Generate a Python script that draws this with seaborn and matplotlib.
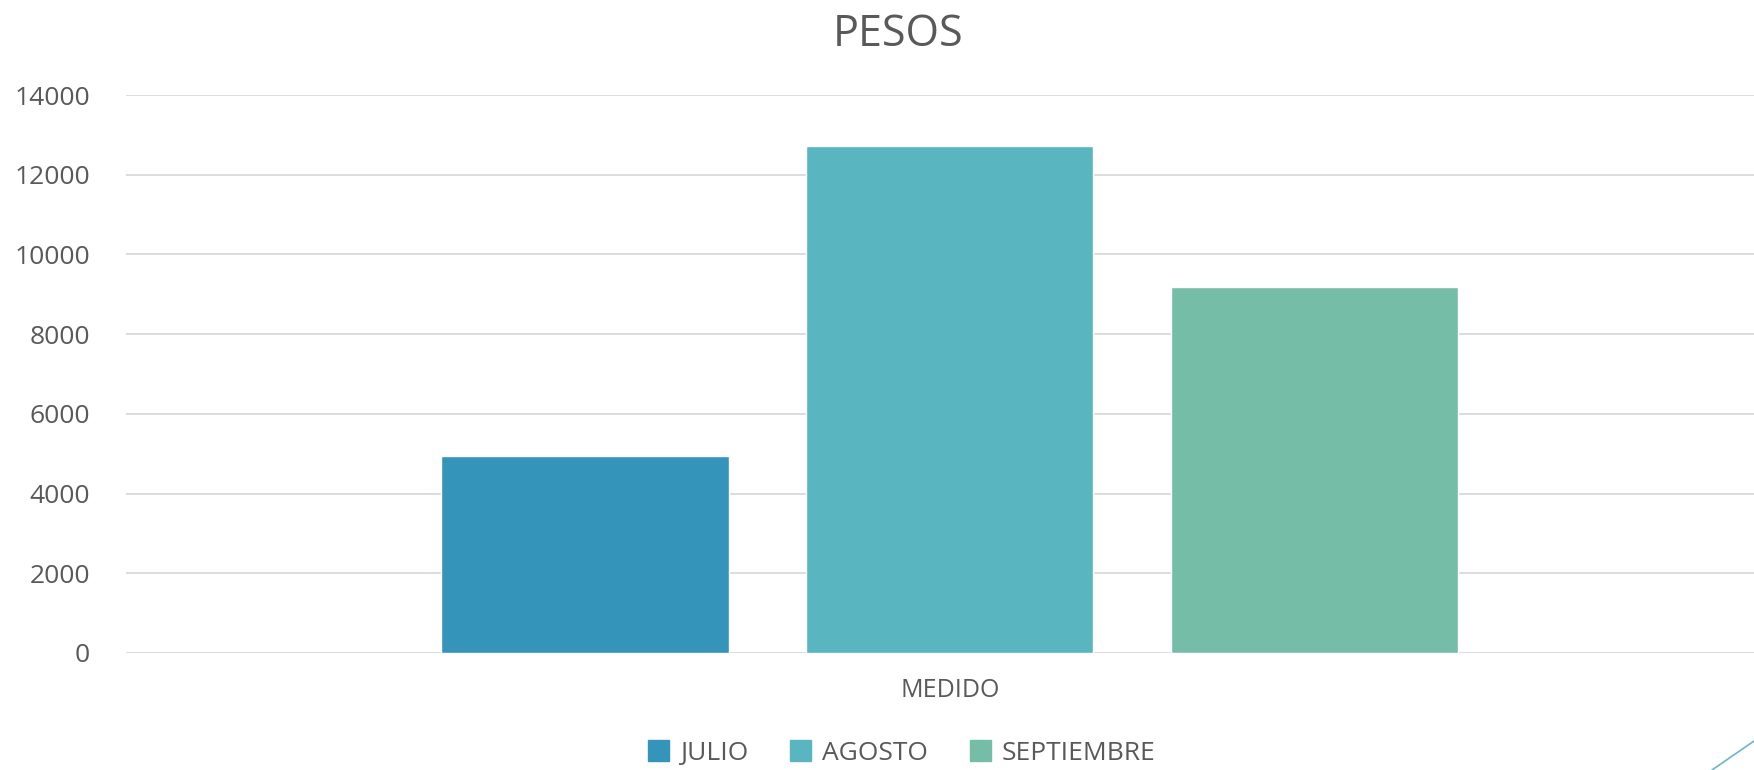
import matplotlib
matplotlib.use("Agg")
import matplotlib.pyplot as plt
from matplotlib.lines import Line2D
import seaborn as sns
import pandas as pd

# Data
categories = ["MEDIDO"]
months = ["JULIO", "AGOSTO", "SEPTIEMBRE"]
values = [4950, 12730, 9190]
colors = ["#3594BA", "#59B5BF", "#76BDA7"]

df = pd.DataFrame({
    "categoria": categories * len(months),
    "mes": months,
    "valor": values,
})

sns.set_theme(style="white")
plt.rcParams['font.family'] = ['Open Sans', 'DejaVu Sans']

text_color = "#595959"

fig = plt.figure(figsize=(17.54, 7.70), dpi=100)
ax = fig.add_axes([0.0718, 0.152, 0.9282, 0.7246])

sns.barplot(
    data=df,
    x="categoria",
    y="valor",
    hue="mes",
    hue_order=months,
    palette=colors,
    width=0.672,
    gap=0.212,
    saturation=1,
    ax=ax,
    legend=False,
)

ax.set_ylim(0, 14000)
ax.set_xlim(-0.506, 0.494)
ax.set_yticks(range(0, 14001, 2000))
ax.yaxis.grid(True, color="#d9d9d9", linewidth=1.3)
ax.set_axisbelow(True)
for s in ax.spines.values():
    s.set_visible(False)
ax.tick_params(axis="y", length=0, pad=26, labelsize=19, labelcolor=text_color)
ax.tick_params(axis="x", length=0, pad=18, labelsize=18, labelcolor=text_color)
ax.set_xlabel("")
ax.set_ylabel("")

fig.text(0.512, 0.955, "PESOS", ha="center", va="center",
         fontsize=31, color=text_color)

handles = [plt.Rectangle((0, 0), 1, 1, color=c) for c in colors]
fig.legend(handles, months, loc="center", bbox_to_anchor=(0.514, 0.022),
           ncol=3, frameon=False, fontsize=19, labelcolor=text_color,
           handlelength=0.8, handleheight=0.8, handletextpad=0.4,
           columnspacing=1.6)

# decorative corner line
fig.add_artist(Line2D([1712 / 1754, 1.0], [0.0, 29 / 770],
                      transform=fig.transFigure, color="#6ab4d6", linewidth=1.2))

fig.savefig("out.png", dpi=100)
